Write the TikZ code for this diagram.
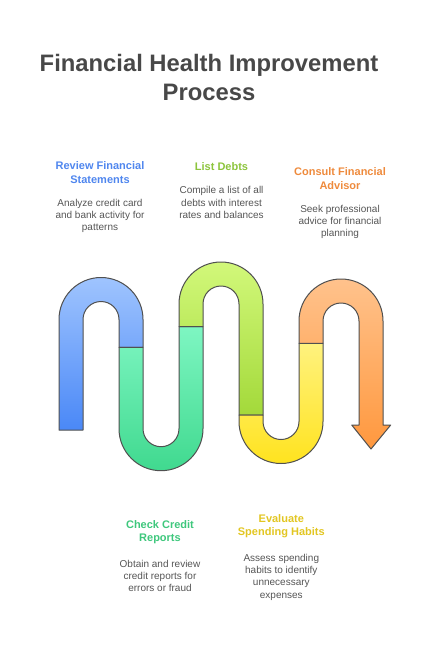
\documentclass[tikz,border=0pt]{standalone}
\usepackage{fontspec}
\setmainfont{Liberation Sans}
\usetikzlibrary{positioning}

\definecolor{titlegray}{HTML}{484848}
\definecolor{bodygray}{HTML}{555555}
\definecolor{outline}{HTML}{505050}
\definecolor{bluetxt}{HTML}{4F86EE}
\definecolor{limetxt}{HTML}{8CC43C}
\definecolor{orangetxt}{HTML}{EE8A3C}
\definecolor{greentxt}{HTML}{3EC77C}
\definecolor{yellowtxt}{HTML}{E2C622}
\definecolor{bluetop}{HTML}{9FC4FE}
\definecolor{bluebot}{HTML}{4A88F7}
\definecolor{greentop}{HTML}{7EF6C2}
\definecolor{greenbot}{HTML}{40D98F}
\definecolor{limetop}{HTML}{D2F87A}
\definecolor{limebot}{HTML}{A3D93A}
\definecolor{yellowtop}{HTML}{FFF27E}
\definecolor{yellowbot}{HTML}{FFE31F}
\definecolor{orangetop}{HTML}{FFC28C}
\definecolor{orangebot}{HTML}{FF983E}

\begin{document}
\begin{tikzpicture}[x=1pt, y=1pt,
  band/.style={draw=outline, line width=1pt, line join=round},
  title/.style={font=\bfseries\fontsize{23.8}{29}\selectfont, text=titlegray, align=center, inner sep=0pt},
  heading/.style={font=\bfseries\fontsize{11}{13.6}\selectfont, align=center, inner sep=0pt},
  body/.style={font=\fontsize{10}{12.2}\selectfont, text=bodygray, align=center, inner sep=0pt, below=15.5pt of #1}
]
\useasboundingbox (0,0) rectangle (423,-646);

\node[title] (title) at (209,-77.8) {Financial Health Improvement\\Process};

% serpentine bands
\shade[band, top color=bluetop, bottom color=bluebot]
  (59,-430) -- (59,-319.5) arc[start angle=180, end angle=0, radius=42pt]
  -- (143,-347.3) -- (119,-347.3) -- (119,-319.5)
  arc[start angle=0, end angle=180, radius=18pt] -- (83,-430) -- cycle;
\shade[band, top color=greentop, bottom color=greenbot]
  (119,-347.3) -- (119,-428.7) arc[start angle=180, end angle=360, radius=42pt]
  -- (203,-326.7) -- (179,-326.7) -- (179,-428.7)
  arc[start angle=0, end angle=-180, radius=18pt] -- (143,-347.3) -- cycle;
\shade[band, top color=limetop, bottom color=limebot]
  (179,-326.7) -- (179,-304) arc[start angle=180, end angle=0, radius=42pt]
  -- (263,-415) -- (239,-415) -- (239,-304)
  arc[start angle=0, end angle=180, radius=18pt] -- (203,-326.7) -- cycle;
\shade[band, top color=yellowtop, bottom color=yellowbot]
  (239,-415) -- (239,-421.5) arc[start angle=180, end angle=360, radius=42pt]
  -- (323,-343.3) -- (299,-343.3) -- (299,-421.5)
  arc[start angle=0, end angle=-180, radius=18pt] -- (263,-415) -- cycle;
\shade[band, top color=orangetop, bottom color=orangebot]
  (299,-343.3) -- (299,-321) arc[start angle=180, end angle=0, radius=42pt]
  -- (383,-425) -- (390.7,-425) -- (371,-449) -- (351.7,-425) -- (359,-425) -- (359,-321)
  arc[start angle=0, end angle=180, radius=18pt] -- (323,-343.3) -- cycle;

% steps
\node[heading, text=bluetxt] (review) at (100,-172.5) {Review Financial\\Statements};
\node[body=review] (reviewtxt) {Analyze credit card\\and bank activity for\\patterns};
\node[heading, text=limetxt] (debts) at (221.5,-166.7) {List Debts};
\node[body=debts] (debtstxt) {Compile a list of all\\debts with interest\\rates and balances};
\node[heading, text=orangetxt] (advisor) at (340,-178.3) {Consult Financial\\Advisor};
\node[body=advisor] (advisortxt) {Seek professional\\advice for financial\\planning};
\node[heading, text=greentxt] (credit) at (160,-532.3) {Check Credit\\Reports};
\node[body=credit] (credittxt) {Obtain and review\\credit reports for\\errors or fraud};
\node[heading, text=yellowtxt] (spending) at (281.3,-526.3) {Evaluate\\Spending Habits};
\node[body=spending] (spendingtxt) {Assess spending\\habits to identify\\unnecessary\\expenses};
\end{tikzpicture}
\end{document}
